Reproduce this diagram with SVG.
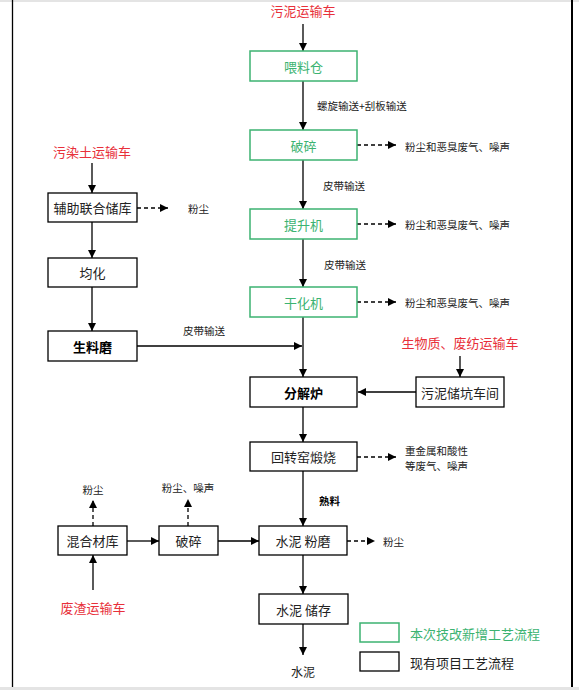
<svg xmlns="http://www.w3.org/2000/svg" width="579" height="690" viewBox="0 0 579 690">
<defs>
<marker id="ah" viewBox="0 0 10 10" refX="10" refY="5" markerWidth="8" markerHeight="8" markerUnits="userSpaceOnUse" orient="auto"><path d="M0,0 L10,5 L0,10 z" fill="#000"/></marker>
<style>
text{font-family:"Noto Sans CJK SC","Liberation Sans",sans-serif;}
.bx{fill:#fff;stroke:#000;stroke-width:1.3;}
.gb{fill:#fff;stroke:#3cb371;stroke-width:1.5;}
.t{font-size:13px;fill:#222;text-anchor:middle;dominant-baseline:central;}
.tg{font-size:13px;fill:#3cb371;text-anchor:middle;dominant-baseline:central;}
.tb{font-size:13px;fill:#000;font-weight:bold;text-anchor:middle;dominant-baseline:central;}
.red{font-size:13px;fill:#e8303a;text-anchor:middle;dominant-baseline:central;}
.s{font-size:10.5px;fill:#222;dominant-baseline:central;}
.sm{font-size:10.5px;fill:#222;text-anchor:middle;dominant-baseline:central;}
.ln{stroke:#000;stroke-width:1.3;fill:none;marker-end:url(#ah);}
.dl{stroke:#000;stroke-width:1.3;fill:none;stroke-dasharray:4,3;marker-end:url(#ah);}
</style>
</defs>
<rect x="0" y="0" width="579" height="690" fill="#fff"/>
<rect x="0" y="0" width="579" height="2" fill="#e4e4e4"/>
<rect x="0" y="687" width="579" height="3" fill="#e4e4e4"/>
<line x1="12.5" y1="0" x2="12.5" y2="687" stroke="#000" stroke-width="1.3"/>
<line x1="572" y1="0" x2="572" y2="687" stroke="#000" stroke-width="2"/>

<g id="connectors">
<path class="ln" d="M303,24 V51"/>
<path class="ln" d="M303,81 V130"/>
<path class="dl" d="M357,145 H396"/>
<path class="ln" d="M303,160 V209"/>
<path class="dl" d="M357,224 H396"/>
<path class="ln" d="M303,239 V287"/>
<path class="dl" d="M357,302 H396"/>
<path class="ln" d="M303,317 V377"/>
<path class="ln" d="M137,346 H302"/>
<path class="ln" d="M460,356 V377"/>
<path class="ln" d="M416,392 H358"/>
<path class="ln" d="M303,407 V442"/>
<path class="dl" d="M357,457 H396"/>
<path class="ln" d="M303,471 V526"/>
<path class="dl" d="M347,541 H375"/>
<path class="ln" d="M127,541 H159"/>
<path class="ln" d="M218,541 H259"/>
<path class="dl" d="M93,526 V500"/>
<path class="dl" d="M188,526 V499"/>
<path class="ln" d="M93,590 V555"/>
<path class="ln" d="M303,555 V594"/>
<path class="ln" d="M303,624 V655"/>
<path class="ln" d="M92,163 V193"/>
<path class="dl" d="M137,208 H168"/>
<path class="ln" d="M92,222 V258"/>
<path class="ln" d="M92,287 V331"/>
</g>

<g id="labels">
<text class="red" x="303" y="10">污泥运输车</text>
<text class="s" x="317" y="105">螺旋输送+刮板输送</text>
<text class="s" x="405" y="146">粉尘和恶臭废气、噪声</text>
<text class="s" x="323" y="185">皮带输送</text>
<text class="s" x="405" y="224">粉尘和恶臭废气、噪声</text>
<text class="s" x="324" y="264">皮带输送</text>
<text class="s" x="405" y="302">粉尘和恶臭废气、噪声</text>
<text class="s" x="183" y="330">皮带输送</text>
<text class="red" x="460" y="342">生物质、废纺运输车</text>
<text class="s" x="405" y="450">重金属和酸性</text>
<text class="s" x="405" y="465">等废气、噪声</text>
<text class="s" x="319" y="500" style="font-weight:bold;fill:#000">熟料</text>
<text class="s" x="383" y="541">粉尘</text>
<text class="sm" x="93" y="489">粉尘</text>
<text class="sm" x="188" y="487">粉尘、噪声</text>
<text class="red" x="93" y="607">废渣运输车</text>
<text class="sm" x="303" y="671" style="font-size:12px">水泥</text>
<text class="red" x="92" y="151">污染土运输车</text>
<text class="s" x="188" y="208">粉尘</text>
</g>

<g id="n-weiliaocang"><rect class="gb" x="250" y="51" width="107" height="30"/><text class="tg" x="303.5" y="66">喂料仓</text></g>
<g id="n-posui1"><rect class="gb" x="250" y="130" width="107" height="30"/><text class="tg" x="303.5" y="145">破碎</text></g>
<g id="n-tishengji"><rect class="gb" x="250" y="209" width="107" height="30"/><text class="tg" x="303.5" y="224">提升机</text></g>
<g id="n-ganhuaji"><rect class="gb" x="250" y="287" width="107" height="30"/><text class="tg" x="303.5" y="302">干化机</text></g>
<g id="n-fenjielu"><rect class="bx" x="250" y="377" width="107" height="30"/><text class="tb" x="303.5" y="392">分解炉</text></g>
<g id="n-wunichukeng"><rect class="bx" x="416" y="377" width="88" height="30"/><text class="t" x="460" y="392">污泥储坑车间</text></g>
<g id="n-huizhuanyao"><rect class="bx" x="250" y="442" width="107" height="29"/><text class="t" x="303.5" y="456.5">回转窑煅烧</text></g>
<g id="n-shuinifenmo"><rect class="bx" x="259" y="526" width="88" height="29"/><text class="t" x="303" y="540.5">水泥 粉磨</text></g>
<g id="n-hunhecaiku"><rect class="bx" x="58" y="526" width="69" height="29"/><text class="t" x="92.5" y="540.5">混合材库</text></g>
<g id="n-posui2"><rect class="bx" x="159" y="526" width="59" height="29"/><text class="t" x="188.5" y="540.5">破碎</text></g>
<g id="n-shuinichucun"><rect class="bx" x="259" y="594" width="89" height="30"/><text class="t" x="303.5" y="609">水泥 储存</text></g>
<g id="n-fuzhu"><rect class="bx" x="48" y="193" width="89" height="29"/><text class="t" x="92.5" y="207.5">辅助联合储库</text></g>
<g id="n-junhua"><rect class="bx" x="48" y="258" width="89" height="29"/><text class="t" x="92.5" y="272.5">均化</text></g>
<g id="n-shengliaomo"><rect class="bx" x="48" y="331" width="89" height="30"/><text class="tb" x="92.5" y="346">生料磨</text></g>

<g id="legend">
<rect class="gb" x="360" y="623" width="39" height="19"/>
<text x="410" y="633" style="font-size:13px;fill:#3cb371;dominant-baseline:central">本次技改新增工艺流程</text>
<rect class="bx" x="360" y="652" width="39" height="19"/>
<text x="410" y="662" style="font-size:13px;fill:#222;dominant-baseline:central">现有项目工艺流程</text>
</g>
</svg>
